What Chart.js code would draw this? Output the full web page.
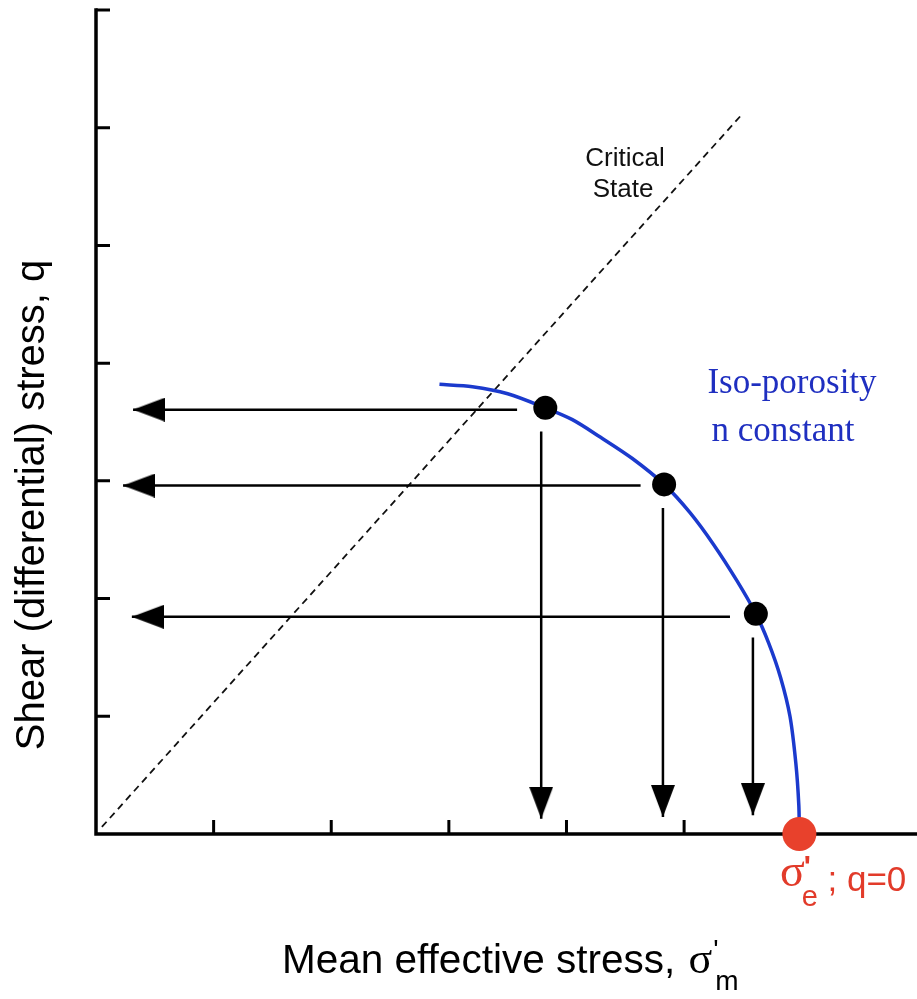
<!DOCTYPE html>
<html>
<head>
<meta charset="utf-8">
<script src="https://cdn.jsdelivr.net/npm/chart.js@4.4.1/dist/chart.umd.min.js"></script>
<style>
  html, body { margin: 0; padding: 0; background: #fff; }
  #wrap { width: 917px; height: 999px; }
</style>
</head>
<body>
<div id="wrap"><canvas id="chart" width="917" height="999"></canvas></div>
<script>
// Tick positions (no labels, arbitrary stress units)
const xTicks = [1, 2, 3, 4, 5, 6];
const yTicks = [1, 2, 3, 4, 5, 6, 7];

// Critical state line (dashed)
const criticalLine = [{ x: 0.05, y: 0.06 }, { x: 5.48, y: 6.1 }];

// Iso-porosity curve (n constant)
const isoCurve = [
  { x: 2.92, y: 3.82 }, { x: 3.2, y: 3.8 }, { x: 3.5, y: 3.74 },
  { x: 3.82, y: 3.62 }, { x: 4.05, y: 3.52 }, { x: 4.29, y: 3.37 },
  { x: 4.56, y: 3.19 }, { x: 4.83, y: 2.97 }, { x: 5.05, y: 2.73 },
  { x: 5.25, y: 2.46 }, { x: 5.45, y: 2.15 }, { x: 5.61, y: 1.87 },
  { x: 5.72, y: 1.62 }, { x: 5.82, y: 1.33 }, { x: 5.9, y: 1.0 },
  { x: 5.95, y: 0.6 }, { x: 5.975, y: 0.25 }, { x: 5.98, y: 0.0 },
];

// Stress states on the curve
const statePoints = [{ x: 3.82, y: 3.62 }, { x: 4.83, y: 2.97 }, { x: 5.61, y: 1.87 }];
const endPoint = [{ x: 5.98, y: 0 }];

// Projection arrows: [start, tip]
const leftArrows = [
  [{ x: 3.58, y: 3.605 }, { x: 0.315, y: 3.605 }],
  [{ x: 4.63, y: 2.96 }, { x: 0.23, y: 2.96 }],
  [{ x: 5.39, y: 1.845 }, { x: 0.305, y: 1.845 }],
];
const downArrows = [
  [{ x: 3.785, y: 3.42 }, { x: 3.785, y: 0.13 }],
  [{ x: 4.82, y: 2.77 }, { x: 4.82, y: 0.145 }],
  [{ x: 5.585, y: 1.67 }, { x: 5.585, y: 0.16 }],
];

function makeHead(len, half) {
  const c = document.createElement('canvas');
  c.width = len * 2;
  c.height = half * 2;
  const g = c.getContext('2d');
  g.fillStyle = '#000';
  g.beginPath();
  g.moveTo(len, half);
  g.lineTo(0, 0);
  g.lineTo(0, half * 2);
  g.closePath();
  g.fill();
  return c;
}
const head = makeHead(32, 12);

function arrowSet(pts, rot) {
  return {
    data: pts,
    showLine: true,
    borderColor: '#000',
    borderWidth: 2.5,
    pointRadius: [0, 1],
    pointHoverRadius: 0,
    pointStyle: head,
    pointRotation: rot,
    clip: false,
    order: 2,
  };
}

// axes with inward ticks, drawn from the scales
const axesPlugin = {
  id: 'axes',
  beforeDatasetsDraw(chart) {
    const { ctx, chartArea: a, scales: { x, y } } = chart;
    ctx.save();
    ctx.strokeStyle = '#000';
    ctx.lineWidth = 3.5;
    ctx.lineCap = 'square';
    ctx.beginPath();
    ctx.moveTo(a.left, a.top);
    ctx.lineTo(a.left, a.bottom);
    ctx.lineTo(a.right + 5, a.bottom);
    ctx.stroke();
    ctx.lineWidth = 3;
    ctx.lineCap = 'butt';
    ctx.beginPath();
    xTicks.forEach((v) => {
      const px = x.getPixelForValue(v);
      ctx.moveTo(px, a.bottom);
      ctx.lineTo(px, a.bottom - 14);
    });
    yTicks.forEach((v) => {
      const py = y.getPixelForValue(v);
      ctx.moveTo(a.left, py);
      ctx.lineTo(a.left + 14, py);
    });
    ctx.stroke();
    ctx.restore();
  },
};

const SANS = '"Liberation Sans", Arial, sans-serif';
const SERIF = '"Liberation Serif", "Times New Roman", serif';

const labelsPlugin = {
  id: 'labels',
  afterDraw(chart) {
    const ctx = chart.ctx;
    ctx.save();
    ctx.textBaseline = 'alphabetic';

    // Critical State
    ctx.fillStyle = '#111';
    ctx.font = '26px ' + SANS;
    ctx.textAlign = 'center';
    ctx.fillText('Critical', 625, 166);
    ctx.fillText('State', 623, 197);

    // Iso-porosity
    ctx.fillStyle = '#1f2fc0';
    ctx.font = '35px ' + SERIF;
    ctx.fillText('Iso-porosity', 792, 393);
    ctx.fillText('n constant', 783, 441);

    // red label
    ctx.fillStyle = '#e23b2a';
    ctx.textAlign = 'left';
    let cx = 780;
    ctx.font = '46px ' + SERIF;
    ctx.fillText('σ', cx, 886);
    cx += ctx.measureText('σ').width;
    ctx.font = 'bold 30px ' + SANS;
    ctx.fillText("'", cx - 1, 876);
    ctx.font = '29px ' + SANS;
    ctx.fillText('e', cx - 3, 906);
    cx += 13;
    ctx.font = '35px ' + SANS;
    ctx.fillText(' ; q=0', cx, 891);

    // x axis title
    ctx.fillStyle = '#000';
    ctx.font = '40.5px ' + SANS;
    let tx = 282;
    ctx.fillText('Mean effective stress, ', tx, 973);
    tx += ctx.measureText('Mean effective stress, ').width;
    ctx.font = '44px ' + SERIF;
    ctx.fillText('σ', tx + 2, 973);
    tx += 2 + ctx.measureText('σ').width;
    ctx.font = '28px ' + SANS;
    ctx.fillText("'", tx + 1, 959);
    ctx.fillText('m', tx + 3, 990);

    // y axis title
    ctx.translate(44, 505);
    ctx.rotate(-Math.PI / 2);
    ctx.textAlign = 'center';
    ctx.font = '40px ' + SANS;
    ctx.fillText('Shear (differential) stress, q', 0, 0);
    ctx.restore();
  },
};

new Chart(document.getElementById('chart'), {
  type: 'scatter',
  data: {
    datasets: [
      {
        data: statePoints,
        pointRadius: 12,
        pointBackgroundColor: '#000',
        pointBorderWidth: 0,
        clip: false,
        order: 0,
      },
      {
        data: endPoint,
        pointRadius: 17,
        pointBackgroundColor: '#e8412c',
        pointBorderWidth: 0,
        clip: false,
        order: 0,
      },
      {
        data: isoCurve,
        showLine: true,
        borderColor: '#1b3acd',
        borderWidth: 3.5,
        tension: 0.3,
        pointRadius: 0,
        clip: false,
        order: 1,
      },
      ...leftArrows.map((a) => arrowSet(a, 180)),
      ...downArrows.map((a) => arrowSet(a, 90)),
      {
        data: criticalLine,
        showLine: true,
        borderColor: '#111',
        borderWidth: 1.8,
        borderDash: [7, 5],
        pointRadius: 0,
        clip: false,
        order: 3,
      },
    ],
  },
  options: {
    responsive: false,
    devicePixelRatio: 1,
    animation: false,
    layout: { autoPadding: false, padding: { left: 96, top: 10, right: 0, bottom: 165 } },
    scales: {
      x: { type: 'linear', min: 0, max: 6.98, display: false },
      y: { type: 'linear', min: 0, max: 7, display: false },
    },
    plugins: {
      legend: { display: false },
      tooltip: { enabled: false },
    },
  },
  plugins: [axesPlugin, labelsPlugin],
});
</script>
</body>
</html>
